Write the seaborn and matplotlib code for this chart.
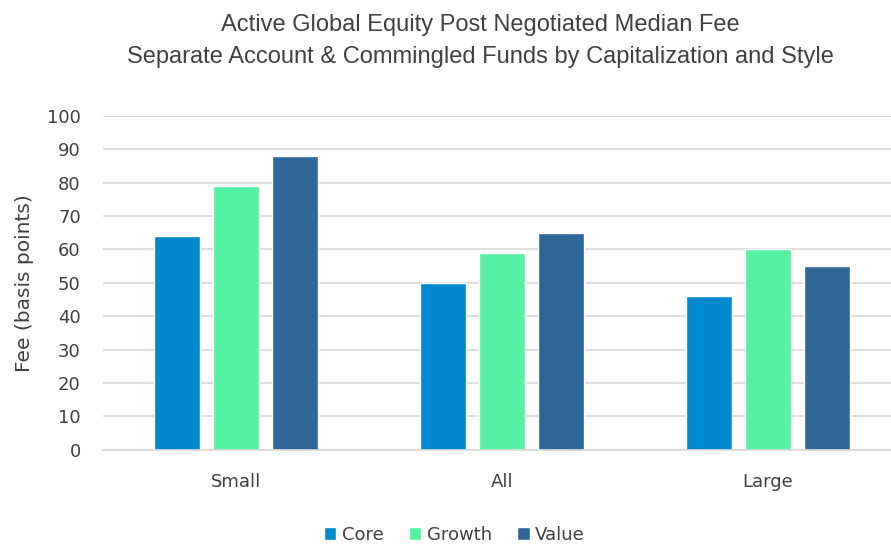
import pandas as pd
import matplotlib.pyplot as plt
import seaborn as sns

# chart values
caps = ['Small', 'All', 'Large']
styles = ['Core', 'Growth', 'Value']
core_fee = [64, 50, 46]
growth_fee = [79, 59, 60]
value_fee = [88, 65, 55]
y_ticks = [0, 10, 20, 30, 40, 50, 60, 70, 80, 90, 100]

colors = ['#0288CF', '#55F2A5', '#316699']
text_grey = '#404040'

df = pd.DataFrame({
    'cap': caps * 3,
    'style': ['Core'] * 3 + ['Growth'] * 3 + ['Value'] * 3,
    'fee': core_fee + growth_fee + value_fee,
})

sns.set_theme(style='white')
plt.rcParams['font.family'] = ['DejaVu Sans']

fig = plt.figure(figsize=(8.91, 5.44), dpi=100)
# axes runs a little past the right edge, like the source chart
ax = fig.add_axes([0.1156, 0.173, 0.8956, 0.614])

sns.barplot(data=df, x='cap', y='fee', hue='style', order=caps, hue_order=styles,
            palette=colors, width=0.665, gap=0.22, saturation=1, ax=ax)

ax.set_ylim(0, 100)
ax.set_yticks(y_ticks)
ax.set_xlim(-0.5, 2.5)
ax.yaxis.grid(True, color='#d9d9d9', linewidth=1.2)
ax.set_axisbelow(True)
for s in ['top', 'right', 'left']:
    ax.spines[s].set_visible(False)
ax.spines['bottom'].set_color('#d9d9d9')
ax.spines['bottom'].set_linewidth(1.2)
ax.tick_params(axis='both', length=0, labelsize=13, colors=text_grey)
ax.tick_params(axis='y', pad=16)
ax.tick_params(axis='x', pad=17)
ax.set_xlabel('')
ax.set_ylabel('Fee (basis points)', fontsize=14.5, color=text_grey)
ax.yaxis.set_label_coords(-0.087, 0.5)

fig.text(0.539, 0.975, 'Active Global Equity Post Negotiated Median Fee\n'
         'Separate Account & Commingled Funds by Capitalization and Style',
         ha='center', va='top', fontsize=17, color=text_grey, linespacing=1.6,
         family=['Liberation Sans', 'DejaVu Sans'])

ax.legend_.remove()
handles, labels = ax.get_legend_handles_labels()
fig.legend(handles, labels, loc='center', bbox_to_anchor=(0.51, 0.017), ncol=3,
           frameon=False, fontsize=13, handlelength=0.7, handleheight=0.7,
           handletextpad=0.3, columnspacing=1.4, labelcolor=text_grey,
           borderpad=0)

fig.savefig('out.png', dpi=100, facecolor='white')
